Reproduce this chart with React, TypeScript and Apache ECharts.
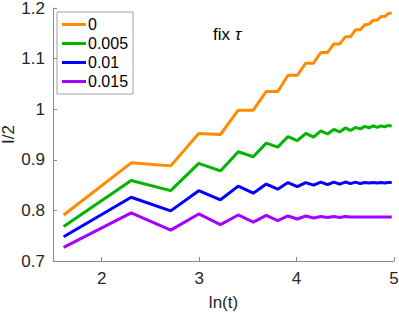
import React, { useEffect, useRef } from "react";
import * as echarts from "echarts";

const tValues = [5, 10, 15, 20, 25, 30, 35, 40, 45, 50, 55, 60, 65, 70, 75, 80, 85, 90, 95, 100, 105, 110, 115, 120, 125, 130, 135, 140, 145];

const seriesNames = ["0", "0.005", "0.01", "0.015"];

const orange = [0.791, 0.894, 0.888, 0.952, 0.950, 0.998, 0.998, 1.035, 1.035, 1.067, 1.067, 1.091, 1.091, 1.112, 1.112, 1.129, 1.129, 1.143, 1.143, 1.157, 1.157, 1.167, 1.168, 1.176, 1.176, 1.183, 1.183, 1.189, 1.190];
const green = [0.768, 0.859, 0.839, 0.893, 0.878, 0.916, 0.906, 0.933, 0.925, 0.946, 0.938, 0.952, 0.945, 0.957, 0.951, 0.960, 0.955, 0.963, 0.958, 0.964, 0.961, 0.966, 0.963, 0.967, 0.964, 0.967, 0.965, 0.968, 0.967];
const blue = [0.748, 0.826, 0.799, 0.839, 0.821, 0.848, 0.834, 0.852, 0.842, 0.855, 0.847, 0.855, 0.850, 0.856, 0.851, 0.856, 0.852, 0.856, 0.853, 0.856, 0.853, 0.855, 0.854, 0.855, 0.854, 0.855, 0.854, 0.855, 0.855];
const purple = [0.727, 0.795, 0.761, 0.793, 0.772, 0.791, 0.777, 0.790, 0.780, 0.789, 0.783, 0.789, 0.785, 0.788, 0.786, 0.788, 0.786, 0.788, 0.787, 0.787, 0.787, 0.787, 0.787, 0.787, 0.787, 0.787, 0.787, 0.787, 0.787];

const colors = ["#FF8C00", "#00B400", "#0000FF", "#A500FF"];
const xTicks = [2, 3, 4, 5];

export default function App() {
  const ref = useRef<HTMLDivElement>(null);
  useEffect(() => {
    document.body.style.margin = "0";
    const chart = echarts.init(ref.current!, null, { renderer: "svg" });
    const all = [orange, green, blue, purple];
    const font = "Liberation Sans, Arial, Helvetica, sans-serif";
    chart.setOption({
      animation: false,
      textStyle: { fontFamily: font },
      grid: { left: 53, right: 5, top: 8, bottom: 52, containLabel: false, outerBoundsMode: "none" },
      title: {
        text: "{a|fix} {b|τ}",
        left: 208,
        top: 20,
        textStyle: {
          fontWeight: "normal",
          rich: {
            a: { fontSize: 17, color: "#000", fontFamily: font, fontWeight: "normal" },
            b: { fontSize: 17, color: "#000", fontStyle: "italic", fontFamily: font, fontWeight: "normal" },
          },
        },
      },
      legend: {
        orient: "vertical",
        left: 57,
        top: 12,
        data: seriesNames,
        icon: "rect",
        itemWidth: 24,
        itemHeight: 3,
        itemGap: 0,
        padding: [3, 5, 3, 5],
        borderColor: "#a0a0a0",
        borderWidth: 1,
        backgroundColor: "#fff",
        textStyle: { fontSize: 16, color: "#000", lineHeight: 19, padding: [0, 0, 0, -3] },
      },
      xAxis: {
        type: "value",
        min: 1.5,
        max: 5,
        name: "ln(t)",
        nameLocation: "middle",
        nameGap: 33,
        nameMoveOverlap: false,
        nameTextStyle: { fontSize: 17, color: "#262626" },
        axisLine: { show: true, lineStyle: { color: "#8c8c8c", width: 1 } },
        axisTick: { show: true, inside: true, length: 4, customValues: xTicks, lineStyle: { color: "#8c8c8c" } },
        axisLabel: { customValues: xTicks, fontSize: 17, color: "#262626", margin: 9 },
        splitLine: { show: false },
      },
      yAxis: {
        type: "value",
        min: 0.7,
        max: 1.2,
        interval: 0.1,
        name: "I/2",
        nameLocation: "middle",
        nameGap: 36,
        nameRotate: 90,
        nameMoveOverlap: false,
        nameTextStyle: { fontSize: 17, color: "#262626" },
        axisLine: { show: true, lineStyle: { color: "#8c8c8c", width: 1 } },
        axisTick: { show: true, inside: true, length: 4, lineStyle: { color: "#8c8c8c" } },
        axisLabel: { fontSize: 17, color: "#262626", margin: 8 },
        splitLine: { show: false },
      },
      series: seriesNames.map((name, i) => ({
        name,
        type: "line",
        data: tValues.map((t, j) => [Math.log(t), all[i][j]]),
        showSymbol: false,
        symbol: "none",
        color: colors[i],
        lineStyle: { width: 3, color: colors[i] },
        z: 10 - i,
      })),
    });
    return () => chart.dispose();
  }, []);
  return <div ref={ref} style={{ width: 399, height: 313 }} />;
}
